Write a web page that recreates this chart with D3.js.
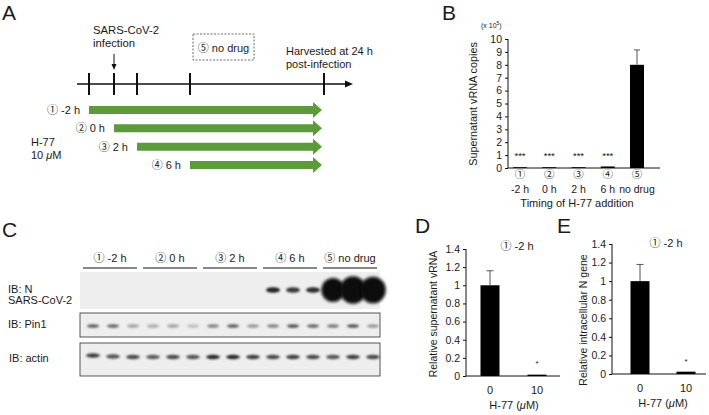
<!DOCTYPE html>
<html>
<head>
<meta charset="utf-8">
<script src="https://cdn.jsdelivr.net/npm/d3@7"></script>
<style>
  body { margin: 0; background: #fff; }
  svg text { font-family: "Liberation Sans", Arial, "Noto Sans CJK JP", sans-serif; fill: #1a1a1a; }
</style>
</head>
<body>
<script>
//==================================================================//
//  DATA
//==================================================================//

// Panel A - schedule
var timePoints = [-2, 0, 2, 6, 24];
var treatLabels = ["① -2 h", "② 0 h", "③ 2 h", "④ 6 h"];
var treatStarts = [-2, 0, 2, 6];

// Panel B - supernatant vRNA copies (x 10^5)
var bCats = ["①", "②", "③", "④", "⑤"];
var bNames = ["-2 h", "0 h", "2 h", "6 h", "no drug"];
var bValues = [0.06, 0.06, 0.06, 0.12, 8.0];
var bErrors = [0, 0, 0, 0, 1.15];
var bSig = ["***", "***", "***", "***", ""];
var bTicks = [0, 1, 2, 3, 4, 5, 6, 7, 8, 9, 10];

// Panel C - western blot (band intensity per lane)
var cGroups = ["① -2 h", "② 0 h", "③ 2 h", "④ 6 h", "⑤ no drug"];
var nBands = [0, 0, 0, 0, 0, 0, 0, 0, 0, 0.9, 0.8, 0.85, 1.55, 1.75, 1.7];
var pin1Bands = [0.75, 0.7, 0.4, 0.35, 0.4, 0.25, 0.55, 0.75, 0.45, 0.55, 0.8, 0.7, 0.6, 0.8, 0.45];
var actinBands = [0.85, 0.75, 0.8, 0.7, 0.8, 0.75, 0.95, 0.95, 0.85, 0.8, 0.85, 0.8, 0.75, 0.85, 0.8];
var blotLabels = [["IB: N", "SARS-CoV-2"], ["IB: Pin1"], ["IB: actin"]];

// Panels D/E
var doseCats = ["0", "10"];
var dValues = [1.0, 0.015];
var dErrors = [0.16, 0];
var eValues = [1.0, 0.025];
var eErrors = [0.18, 0];
var relTicks = [0, 0.2, 0.4, 0.6, 0.8, 1, 1.2, 1.4];

//==================================================================//
//  SVG
//==================================================================//
var svg = d3.select("body").append("svg")
    .attr("width", 709)
    .attr("height", 415);

var defs = svg.append("defs");
defs.append("filter").attr("id", "blur")
    .attr("x", "-50%").attr("y", "-50%").attr("width", "200%").attr("height", "200%")
    .append("feGaussianBlur").attr("stdDeviation", 1.0);
defs.append("filter").attr("id", "blur2")
    .attr("x", "-50%").attr("y", "-50%").attr("width", "200%").attr("height", "200%")
    .append("feGaussianBlur").attr("stdDeviation", 1.6);

function panelLetter(t, x, y) {
    svg.append("text").text(t)
        .attr("x", x).attr("y", y)
        .attr("font-size", "21px");
}

//==================================================================//
//  PANEL A
//==================================================================//
panelLetter("A", 2, 20);

var tx = d3.scaleLinear().domain(timePoints).range([89, 114, 137, 190, 324]);
var axisY = 84;

svg.append("line")
    .attr("x1", 77).attr("x2", 348)
    .attr("y1", axisY).attr("y2", axisY)
    .attr("stroke", "#111").attr("stroke-width", 1.6);
svg.append("path")
    .attr("d", "M353," + axisY + " L345," + (axisY - 3.5) + " L345," + (axisY + 3.5) + " Z")
    .attr("fill", "#111");

svg.selectAll("tickA")
    .data(timePoints)
    .join("line")
    .attr("x1", function(d) { return tx(d); })
    .attr("x2", function(d) { return tx(d); })
    .attr("y1", axisY - 11).attr("y2", axisY + 11)
    .attr("stroke", "#111").attr("stroke-width", 2);

// infection arrow
svg.append("line")
    .attr("x1", tx(0)).attr("x2", tx(0))
    .attr("y1", 54).attr("y2", 65)
    .attr("stroke", "#111").attr("stroke-width", 1);
svg.append("path")
    .attr("d", "M" + tx(0) + ",70 L" + (tx(0) - 2.5) + ",64 L" + (tx(0) + 2.5) + ",64 Z")
    .attr("fill", "#111");
svg.append("text").text("SARS-CoV-2")
    .attr("x", 93).attr("y", 34).attr("font-size", "11.3px");
svg.append("text").text("infection")
    .attr("x", 93).attr("y", 47).attr("font-size", "11.3px");

// no drug box
svg.append("rect")
    .attr("x", 193).attr("y", 34).attr("width", 61).attr("height", 26)
    .attr("fill", "none").attr("stroke", "#444")
    .attr("stroke-width", 0.8).attr("stroke-dasharray", "2,1.5");
svg.append("text").text("⑤ no drug")
    .attr("x", 223.5).attr("y", 52).attr("font-size", "11px")
    .style("text-anchor", "middle");

svg.append("text").text("Harvested at 24 h")
    .attr("x", 286).attr("y", 55).attr("font-size", "11px");
svg.append("text").text("post-infection")
    .attr("x", 286).attr("y", 68).attr("font-size", "11px");

// treatment arrows
var rowY = d3.scalePoint().domain(treatLabels).range([110, 165]);
var arrowEnd = tx(24) - 2;

svg.selectAll("greenArrow")
    .data(treatLabels)
    .join("path")
    .attr("d", function(d, i) {
        var x0 = tx(treatStarts[i]), y = rowY(d);
        return "M" + x0 + "," + (y - 4) + " L" + (arrowEnd - 9) + "," + (y - 4) +
            " L" + (arrowEnd - 9) + "," + (y - 8) + " L" + arrowEnd + "," + y +
            " L" + (arrowEnd - 9) + "," + (y + 8) + " L" + (arrowEnd - 9) + "," + (y + 4) +
            " L" + x0 + "," + (y + 4) + " Z";
    })
    .attr("fill", "#5b9b3b");

svg.selectAll("greenLabel")
    .data(treatLabels)
    .join("text")
    .text(function(d) { return d; })
    .attr("x", function(d, i) { return tx(treatStarts[i]) - 9; })
    .attr("y", function(d) { return rowY(d) + 4; })
    .attr("font-size", "11px")
    .style("text-anchor", "end");

svg.append("text").text("H-77").attr("x", 31).attr("y", 146).attr("font-size", "11px");
svg.append("text").attr("x", 31).attr("y", 159).attr("font-size", "11px")
    .html('10 <tspan font-style="italic">μ</tspan>M');

//==================================================================//
//  PANEL B
//==================================================================//
panelLetter("B", 442, 20);

var bx = d3.scalePoint().domain(bCats).range([520, 637]);
var by = d3.scaleLinear().domain([0, 10]).range([168, 39]);
var bW = 14;

svg.append("g")
    .attr("transform", "translate(508,0)")
    .call(d3.axisLeft(by).tickValues(bTicks).tickSize(3).tickPadding(3))
    .call(function(g) {
        g.select(".domain").attr("stroke", "#111").attr("d", "M0," + by(10) + "V" + by(0));
        g.selectAll("line").attr("stroke", "#111");
        g.selectAll("text").attr("font-size", "10.5px").attr("font-family", null);
    });
svg.append("line")
    .attr("x1", 508).attr("x2", 660)
    .attr("y1", by(0)).attr("y2", by(0))
    .attr("stroke", "#111").attr("stroke-width", 1);

svg.selectAll("bBar")
    .data(bCats)
    .join("rect")
    .attr("x", function(d) { return bx(d) - bW / 2; })
    .attr("y", function(d, i) { return by(bValues[i]); })
    .attr("width", bW)
    .attr("height", function(d, i) { return by(0) - by(bValues[i]); })
    .attr("fill", "#000");

svg.selectAll("bErr")
    .data(bCats.filter(function(d, i) { return bErrors[i] > 0; }))
    .join("path")
    .attr("d", function(d) {
        var i = bCats.indexOf(d), x = bx(d);
        var y1 = by(bValues[i]), y2 = by(bValues[i] + bErrors[i]);
        return "M" + x + "," + y1 + "V" + y2 + "M" + (x - 3) + "," + y2 + "H" + (x + 3);
    })
    .attr("stroke", "#555").attr("stroke-width", 1).attr("fill", "none");

svg.selectAll("bSig")
    .data(bCats)
    .join("text")
    .text(function(d, i) { return bSig[i]; })
    .attr("x", function(d) { return bx(d); })
    .attr("y", 159)
    .attr("font-size", "9.5px")
    .style("text-anchor", "middle");

svg.selectAll("bCat")
    .data(bCats)
    .join("text")
    .text(function(d) { return d; })
    .attr("x", function(d) { return bx(d); })
    .attr("y", 178)
    .attr("font-size", "10.5px")
    .style("text-anchor", "middle");
svg.selectAll("bName")
    .data(bNames)
    .join("text")
    .text(function(d) { return d; })
    .attr("x", function(d, i) { return bx(bCats[i]); })
    .attr("y", 193)
    .attr("font-size", "10.5px")
    .style("text-anchor", "middle");

svg.append("text").text("Timing of H-77 addition")
    .attr("x", 577).attr("y", 207).attr("font-size", "11px")
    .style("text-anchor", "middle");
svg.append("text")
    .attr("transform", "translate(477,104) rotate(-90)")
    .attr("font-size", "10.8px")
    .style("text-anchor", "middle")
    .text("Supernatant vRNA copies");
svg.append("text").attr("x", 481).attr("y", 28).attr("font-size", "7px")
    .html('(x 10<tspan dy="-3" font-size="5px">5</tspan><tspan dy="3">)</tspan>');

//==================================================================//
//  PANEL C - blot
//==================================================================//
panelLetter("C", 2, 237);

var lanes = d3.range(15);
var lx = d3.scaleBand().domain(lanes).range([83, 383]);
var laneC = function(i) { return lx(i) + lx.bandwidth() / 2; };

svg.selectAll("cGroupLine")
    .data(cGroups)
    .join("line")
    .attr("x1", function(d, i) { return lx(i * 3); })
    .attr("x2", function(d, i) { return lx(i * 3 + 2) + lx.bandwidth() - 6; })
    .attr("y1", 268).attr("y2", 268)
    .attr("stroke", "#111").attr("stroke-width", 1);
svg.selectAll("cGroupText")
    .data(cGroups)
    .join("text")
    .text(function(d) { return d; })
    .attr("x", function(d, i) { return (lx(i * 3) + lx(i * 3 + 2) + lx.bandwidth() - 6) / 2; })
    .attr("y", 262)
    .attr("font-size", "11px")
    .style("text-anchor", "middle");

var blots = [
    { y: 272, h: 37, bands: nBands, border: false, bandY: 290, dark: "#0a0a0a" },
    { y: 313, h: 24, bands: pin1Bands, border: true, bandY: 326, dark: "#2a2a2a" },
    { y: 343, h: 33, bands: actinBands, border: true, bandY: 357, dark: "#1e1e1e" }
];

blots.forEach(function(b, k) {
    svg.append("rect")
        .attr("x", 80).attr("y", b.y).attr("width", 300).attr("height", b.h)
        .attr("fill", "#eeeeee")
        .attr("stroke", b.border ? "#444" : "none").attr("stroke-width", 0.9);

    svg.append("g").selectAll("ellipse")
        .data(lanes.filter(function(i) { return b.bands[i] > 0; }))
        .join("ellipse")
        .attr("cx", function(i) { return laneC(i); })
        .attr("cy", function(i) { return b.bandY + (k === 2 ? (i < 2 ? -1.5 + i : 0) : 0); })
        .attr("rx", function(i) { return b.bands[i] > 1 ? 7.5 * b.bands[i] : (k === 1 ? 6 : 7); })
        .attr("ry", function(i) { return b.bands[i] > 1 ? 7.8 * b.bands[i] : (k === 0 ? 2.8 : k === 1 ? 1.7 : 2.2); })
        .attr("fill", function(i) {
            var v = Math.min(b.bands[i], 1);
            return d3.interpolateRgb("#eeeeee", b.dark)(v);
        })
        .attr("filter", function(i) { return b.bands[i] > 1 ? "url(#blur2)" : "url(#blur)"; });

    blotLabels[k].forEach(function(t, j) {
        svg.append("text").text(t)
            .attr("x", k === 2 ? 9 : 8)
            .attr("y", (k === 0 ? 293 : k === 1 ? 328 : 362) + j * 11)
            .attr("font-size", "11px");
    });
});

//==================================================================//
//  PANELS D & E
//==================================================================//
function smallBar(opt) {
    var y = d3.scaleLinear().domain([0, 1.4]).range([opt.y0, opt.y1]);
    var x = d3.scalePoint().domain(doseCats).range(opt.xr);
    var w = 19;

    svg.append("g")
        .attr("transform", "translate(" + opt.ax + ",0)")
        .call(d3.axisLeft(y).tickValues(relTicks).tickSize(3).tickPadding(3)
            .tickFormat(function(d) { return String(+d.toFixed(1)); }))
        .call(function(g) {
            g.select(".domain").attr("stroke", "#111").attr("d", "M0," + y(1.4) + "V" + y(0));
            g.selectAll("line").attr("stroke", "#111");
            g.selectAll("text").attr("font-size", "10.5px").attr("font-family", null);
        });
    svg.append("line")
        .attr("x1", opt.ax).attr("x2", opt.axEnd)
        .attr("y1", y(0)).attr("y2", y(0))
        .attr("stroke", "#111");

    svg.selectAll("sb" + opt.id)
        .data(doseCats)
        .join("rect")
        .attr("x", function(d) { return x(d) - w / 2; })
        .attr("y", function(d, i) { return y(opt.values[i]); })
        .attr("width", w)
        .attr("height", function(d, i) { return y(0) - y(opt.values[i]); })
        .attr("fill", "#000");

    svg.selectAll("se" + opt.id)
        .data(doseCats.filter(function(d, i) { return opt.errors[i] > 0; }))
        .join("path")
        .attr("d", function(d) {
            var i = doseCats.indexOf(d), cx = x(d);
            var y1 = y(opt.values[i]), y2 = y(opt.values[i] + opt.errors[i]);
            return "M" + cx + "," + y1 + "V" + y2 + "M" + (cx - 3.5) + "," + y2 + "H" + (cx + 3.5);
        })
        .attr("stroke", "#555").attr("fill", "none");

    svg.append("text").text("*")
        .attr("x", x("10")).attr("y", y(0) - 10)
        .attr("font-size", "8px").style("text-anchor", "middle");

    svg.selectAll("sx" + opt.id)
        .data(doseCats)
        .join("text")
        .text(function(d) { return d; })
        .attr("x", function(d) { return x(d); })
        .attr("y", y(0) + 18)
        .attr("font-size", "11px")
        .style("text-anchor", "middle");

    svg.append("text")
        .attr("x", opt.xlabX).attr("y", y(0) + 33)
        .attr("font-size", "11px").style("text-anchor", "middle")
        .html('H-77 (<tspan font-style="italic">μ</tspan>M)');

    svg.append("text").text("① -2 h")
        .attr("x", opt.xlabX + 3).attr("y", opt.titleY)
        .attr("font-size", "11px").style("text-anchor", "middle");

    svg.append("text")
        .attr("transform", "translate(" + opt.ylabX + "," + opt.ylabY + ") rotate(-90)")
        .attr("font-size", "10.5px")
        .style("text-anchor", "middle")
        .text(opt.ylab);
}

panelLetter("D", 415, 233);
smallBar({ id: "d", ax: 466, axEnd: 560, y0: 376, y1: 249, xr: [490, 537],
    values: dValues, errors: dErrors, xlabX: 514, titleY: 250,
    ylab: "Relative supernatant vRNA", ylabX: 437, ylabY: 314 });

panelLetter("E", 557, 233);
smallBar({ id: "e", ax: 612, axEnd: 706, y0: 374, y1: 244, xr: [640, 686],
    values: eValues, errors: eErrors, xlabX: 663, titleY: 247,
    ylab: "Relative intracellular N gene", ylabX: 587, ylabY: 320 });
</script>
</body>
</html>
